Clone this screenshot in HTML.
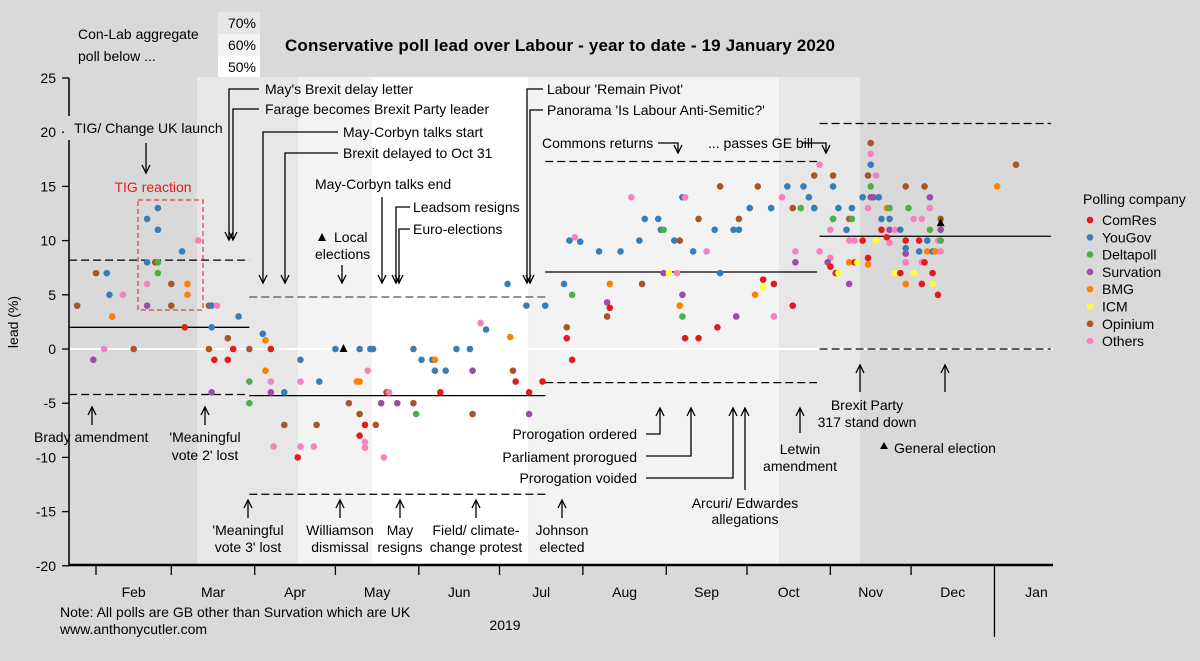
<!DOCTYPE html>
<html><head><meta charset="utf-8">
<style>
html,body{margin:0;padding:0;background:#d9d9d9;}
svg{display:block;font-family:"Liberation Sans",Arial,sans-serif;}
</style></head>
<body>
<svg id="chart" width="1200" height="661" viewBox="0 0 1200 661" xmlns="http://www.w3.org/2000/svg">
<rect x="0" y="0" width="1200" height="661" fill="#d9d9d9"/>
<g id="bands"></g>
<g id="hlines"></g>
<g id="axes"></g>
<g id="annot" font-size="14" fill="#000"></g>
<g id="dots"></g>
<g id="legend" font-size="14"></g>
</svg>
<script>
// ---- data ----
const companies = ["ComRes","YouGov","Deltapoll","Survation","BMG","ICM","Opinium","Others"];
const companyColors = ["#e41a1c","#377eb8","#4daf4a","#984ea3","#ff7f00","#ffff33","#a65628","#f781bf"];
const monthLabels = ["Feb","Mar","Apr","May","Jun","Jul","Aug","Sep","Oct","Nov","Dec","Jan"];
const monthStartDays = [31,59,90,120,151,181,212,243,273,304,334,365];
const yTicks = [25,20,15,10,5,0,-5,-10,-15,-20];
// polls: day of year (0 = 1 Jan 2019), Con lead, company index
const pollDay = [54,50,54,69,63,50,53,54,31,35,54,50,59,65,36,41,65,24,50,59,73,74,76,37,84,64,74,80,93,94,34,45,73,82,88,96,120,30,75,80,107,94,88,96,107,114,128,74,96,101,88,125,101,113,97,107,112,106,
184,191,198,174,176,185,129,133,134,149,165,170,152,156,157,132,157,161,171,186,129,187,197,139,140,159,192,137,143,149,129,150,171,192,131,135,129,131,131,138,
263,277,288,294,230,249,250,286,296,274,282,290,293,298,235,240,255,270,241,242,261,268,270,207,209,211,233,246,248,218,226,253,258,291,291,242,244,247,263,205,222,234,279,283,279,208,249,276,221,222,248,290,221,249,269,283,206,262,206,250,255,208,
319,319,300,319,373,298,305,318,321,305,319,332,339,366,316,319,320,322,341,298,307,312,318,325,326,333,341,305,305,311,312,323,326,335,338,345,304,310,323,326,328,330,341,345,311,313,316,321,325,326,332,337,340,344,345,332,332,337,340,342,343,345,304,303,304,311,313,314,318,318,332,338,339,306,307,328,330,335,342,311,332,338,342,344,300];
const pollLead = [13,12,11,10,9,8,8,8,7,7,7,6,6,6,5,5,5,4,4,4,4,4,4,3,3,2,2,1,1.4,0.8,0,0,0,0,0,0,0,-1,-1,-1,-1,-2,-3,-3,-3,-3,-3,-4,-4,-4,-5,-5,-7,-7,-9,-9,-9,-10,
6,4,4,2.4,1.8,1.1,0,0,0,0,0,0,-1,-1,-1,-2,-2,-2,-2,-2,-3,-3,-3,-4,-4,-4,-4,-5,-5,-5,-6,-6,-6,-6,-7,-7,-8,-8.6,-9.1,-10,
15,15,15,15,14,14,14,14,14,13,13,13,13,13,12,12,12,12,11,11,11,11,11,10,10.3,9.9,10,10,10,9,9,9,9,9,8,7,7,7,7,6,6,6,6.4,6,5.7,5,5,5,4.3,3.8,4,4,3,3,3,3,2,2,1,1,1,-1,
19,18,17,17,17,16,16,16,16,15,15,15,15,15,14,14,14,14,14,13,13,13,13,13,13,13,13,12,12,12,12,12,12,12,12,12,11,11,11,11,11,11,11,11,10,10,10,10,10.3,9.8,10,10,10,10,10,9.3,8.8,9,9,9,9,9,8.4,8,7.6,8,8,8,8.4,7.8,8,8,8,7,7,7,7,7,7,6,6,6,6,5,9];
const pollCo = [1,1,1,7,1,1,6,2,6,1,2,7,6,4,1,7,4,6,3,6,6,1,7,4,1,0,1,6,1,4,7,6,6,0,6,0,1,3,0,0,1,4,2,7,7,1,4,3,3,1,2,6,6,6,7,7,7,0,
1,1,1,7,1,4,1,1,1,1,1,1,1,1,4,7,1,1,3,6,4,0,0,6,7,0,0,3,3,6,6,2,6,3,0,6,0,7,7,7,
6,6,1,1,7,1,7,7,1,1,1,6,2,1,1,1,6,6,1,2,1,1,1,1,7,1,1,1,6,1,1,1,7,7,3,3,5,7,1,1,4,6,0,0,5,2,3,4,3,0,4,0,6,2,3,7,6,0,0,0,0,0,
6,7,7,1,6,6,6,6,7,1,2,6,6,4,1,3,3,1,3,1,1,1,7,4,2,2,7,1,2,6,2,1,1,7,7,6,7,1,0,3,7,1,2,3,7,7,0,5,0,7,0,0,1,7,2,1,3,1,4,1,4,7,7,3,0,4,0,5,0,4,7,7,0,0,5,5,0,5,0,3,4,0,5,0,7];
// period reference levels: start/end day, mean, upper, lower
const periodStart = [21,88,198,300];
const periodEnd = [88,198,299,386];
const periodMean = [2,-4.3,7.1,10.4];
const periodUpper = [8.2,4.8,17.3,20.8];
const periodLower = [-4.2,-13.4,-3.1,0];
// aggregate shading bands (day ranges) and aggregate level
const bandStart = [68.5,106,133.6,191.6,285];
const bandEnd = [106,133.6,191.6,285,315];
const bandLevel = [70,60,50,60,70];
const bandFill = {70:"#e7e7e7",60:"#f3f3f3",50:"#ffffff"};
const markers = [[123,0],[345,11.6]]; // local elections, general election

// ---- scales ----
function xS(d){return 96+(d-31)*2.69;}
function yS(v){return 349-v*10.84;}
const NS="http://www.w3.org/2000/svg";
function mk(parent,tag,attrs){const e=document.createElementNS(NS,tag);for(const k in attrs)e.setAttribute(k,attrs[k]);parent.appendChild(e);return e;}
const bands=document.getElementById('bands'),hl=document.getElementById('hlines'),ax=document.getElementById('axes'),an=document.getElementById('annot'),dg=document.getElementById('dots'),lg=document.getElementById('legend');

// bands
for(let i=0;i<bandStart.length;i++){
  const r=mk(bands,'rect',{x:xS(bandStart[i]),y:77,width:xS(bandEnd[i])-xS(bandStart[i]),height:487,fill:bandFill[bandLevel[i]]});
  
  
}
// zero line
const z=mk(hl,'line',{x1:69,x2:1053,y1:yS(0),y2:yS(0),stroke:'#ffffff','stroke-width':2});


// period lines
for(let i=0;i<periodStart.length;i++){
  const x1=Math.max(69,xS(periodStart[i])),x2=Math.min(1053,xS(periodEnd[i]));
  const m=mk(hl,'line',{x1:x1,x2:x2,y1:yS(periodMean[i]),y2:yS(periodMean[i]),stroke:'#000','stroke-width':1.3});
  
  
  [periodUpper[i],periodLower[i]].forEach(v=>{
    const d=mk(hl,'line',{x1:x1,x2:x2,y1:yS(v),y2:yS(v),stroke:i==1&&v>0?'#555':'#000','stroke-width':1.3,'stroke-dasharray':'8,4'});
    
    
  });
}
// axes
const yl=mk(ax,'line',{x1:69,x2:69,y1:yS(25),y2:yS(-20),stroke:'#000','stroke-width':1.5});


yTicks.forEach(t=>{
  mk(ax,'line',{x1:62,x2:69,y1:yS(t),y2:yS(t),stroke:'#000','stroke-width':1.3});
  const tx=mk(ax,'text',{x:56,y:yS(t)+5,'text-anchor':'end','font-size':14});
  tx.textContent=t;
  
  
});
const xl=mk(ax,'line',{x1:69,x2:1053,y1:565,y2:565,stroke:'#000','stroke-width':2.5});


monthStartDays.forEach((d,i)=>{
  if(i<11) mk(ax,'line',{x1:xS(d),x2:xS(d),y1:565,y2:575,stroke:'#000','stroke-width':1.3});
  const mid = i<11 ? (xS(d)+xS(monthStartDays[i+1]))/2 : xS(d)+42;
  const tx=mk(ax,'text',{x:mid,y:597,'text-anchor':'middle','font-size':14});
  tx.textContent=monthLabels[i];
  
  
});
mk(ax,'line',{x1:xS(365),x2:xS(365),y1:565,y2:637,stroke:'#000','stroke-width':1.3});

// annotations
function T(x,y,s,opt){const t=mk(an,'text',Object.assign({x:x,y:y},opt||{}));t.textContent=s;return t;}
function P(d){mk(an,'path',{d:d,fill:'none',stroke:'#000','stroke-width':1.3});}
function down(x,y){P(`M${x-4},${y-8} L${x},${y} L${x+4},${y-8}`);}
function up(x,y){P(`M${x-4},${y+8} L${x},${y} L${x+4},${y+8}`);}
T(78,39,"Con-Lab aggregate");T(78,61,"poll below ...");
mk(an,'rect',{x:218,y:12,width:42,height:22,fill:'#e7e7e7'});
mk(an,'rect',{x:218,y:34,width:42,height:22,fill:'#f3f3f3'});
mk(an,'rect',{x:218,y:56,width:42,height:21,fill:'#ffffff'});
T(256,28,"70%",{'text-anchor':'end'});T(256,50,"60%",{'text-anchor':'end'});T(256,72,"50%",{'text-anchor':'end'});
const ti=T(285,51,"Conservative poll lead over Labour - year to date - 19 January 2020",{'font-weight':'bold','font-size':17,textLength:550});

const yt=T(0,0,"lead (%)",{transform:'translate(18,322) rotate(-90)','text-anchor':'middle'});

mk(an,'rect',{x:64,y:116,width:8,height:24,fill:'#d9d9d9'});
T(74,133,"TIG/ Change UK launch");P("M146,143 L146,173");down(146,173);
T(153,192,"TIG reaction",{fill:'#e41a1c','text-anchor':'middle'});
mk(an,'rect',{x:138,y:200,width:65,height:110,fill:'none',stroke:'#e41a1c','stroke-width':1,'stroke-dasharray':'5,3'});
T(265,94,"May's Brexit delay letter");P("M259,89 L229,89 L229,240");down(229,240);
T(265,114,"Farage becomes Brexit Party leader");P("M259,109 L233,109 L233,240");down(233,240);
T(343,137,"May-Corbyn talks start");P("M338,132 L263,132 L263,283");down(263,283);
T(343,158,"Brexit delayed to Oct 31");P("M338,153 L285,153 L285,283");down(285,283);
T(315,189,"May-Corbyn talks end");P("M382,197 L382,283");down(382,283);
T(413,212,"Leadsom resigns");P("M410,207 L396,207 L396,283");down(396,283);
T(413,234,"Euro-elections");P("M410,229 L399,229 L399,283");down(399,283);
T(334,242,"Local");T(315,259,"elections");P("M342,265 L342,283");down(342,283);
T(547,94,"Labour 'Remain Pivot'");P("M543,89 L527,89 L527,283");down(527,283);
T(547,115,"Panorama 'Is Labour Anti-Semitic?'");P("M543,110 L530,110 L530,283");down(530,283);
T(542,148,"Commons returns");P("M658,143 L678,143 L678,153");down(678,153);
T(708,148,"... passes GE bill");P("M802,143 L826,143 L826,153");down(826,153);
T(34,442,"Brady amendment");P("M92,425 L92,407");up(92,407);
T(205,442,"'Meaningful",{'text-anchor':'middle'});T(205,460,"vote 2' lost",{'text-anchor':'middle'});P("M205,425 L205,407");up(205,407);
[[248,"'Meaningful","vote 3' lost"],[340,"Williamson","dismissal"],[400,"May","resigns"],[476,"Field/ climate-","change protest"],[562,"Johnson","elected"]].forEach(a=>{
  T(a[0],535,a[1],{'text-anchor':'middle'});T(a[0],552,a[2],{'text-anchor':'middle'});P(`M${a[0]},518 L${a[0]},500`);up(a[0],500);
});
T(637,439,"Prorogation ordered",{'text-anchor':'end'});P("M646,434 L660,434 L660,408");up(660,408);
T(637,462,"Parliament prorogued",{'text-anchor':'end'});P("M646,456 L691,456 L691,408");up(691,408);
T(637,483,"Prorogation voided",{'text-anchor':'end'});P("M646,478 L733,478 L733,408");up(733,408);
P("M745,490 L745,408");up(745,408);
T(745,508,"Arcuri/ Edwardes",{'text-anchor':'middle'});T(745,524,"allegations",{'text-anchor':'middle'});
P("M800,433 L800,408");up(800,408);
T(800,454,"Letwin",{'text-anchor':'middle'});T(800,471,"amendment",{'text-anchor':'middle'});
P("M860,392 L860,365");up(860,365);
T(867,410,"Brexit Party",{'text-anchor':'middle'});T(867,427,"317 stand down",{'text-anchor':'middle'});
P("M945,392 L945,365");up(945,365);
mk(an,'path',{d:'M880,449 L884,442 L888,449 Z',fill:'#000'});
T(894,453,"General election");
mk(an,'path',{d:'M318,241 L322,233 L326,241 Z',fill:'#000'});
T(60,617,"Note: All polls are GB other than Survation which are UK");
T(60,634,"www.anthonycutler.com");
T(505,630,"2019",{'text-anchor':'middle'});

// dots
for(let i=0;i<pollDay.length;i++){
  const c=mk(dg,'circle',{cx:xS(pollDay[i]),cy:yS(pollLead[i]),r:3.3,fill:companyColors[pollCo[i]]});
  
  
}
markers.forEach(m=>{
  const x=xS(m[0]),y=yS(m[1]);
  const p=mk(dg,'path',{d:`M${x-4},${y+3} L${x},${y-5} L${x+4},${y+3} Z`,fill:'#000'});
  
  
});

// legend
const lt=mk(lg,'text',{x:1083,y:204});lt.textContent="Polling company";


companies.forEach((c,i)=>{
  const y=220+i*17.3;
  const g=mk(lg,'g',{});
  
  
  mk(g,'circle',{cx:1090,cy:y,r:3.3,fill:companyColors[i]});
  const t=mk(g,'text',{x:1102,y:y+5});t.textContent=c;
});
</script>
</body></html>
